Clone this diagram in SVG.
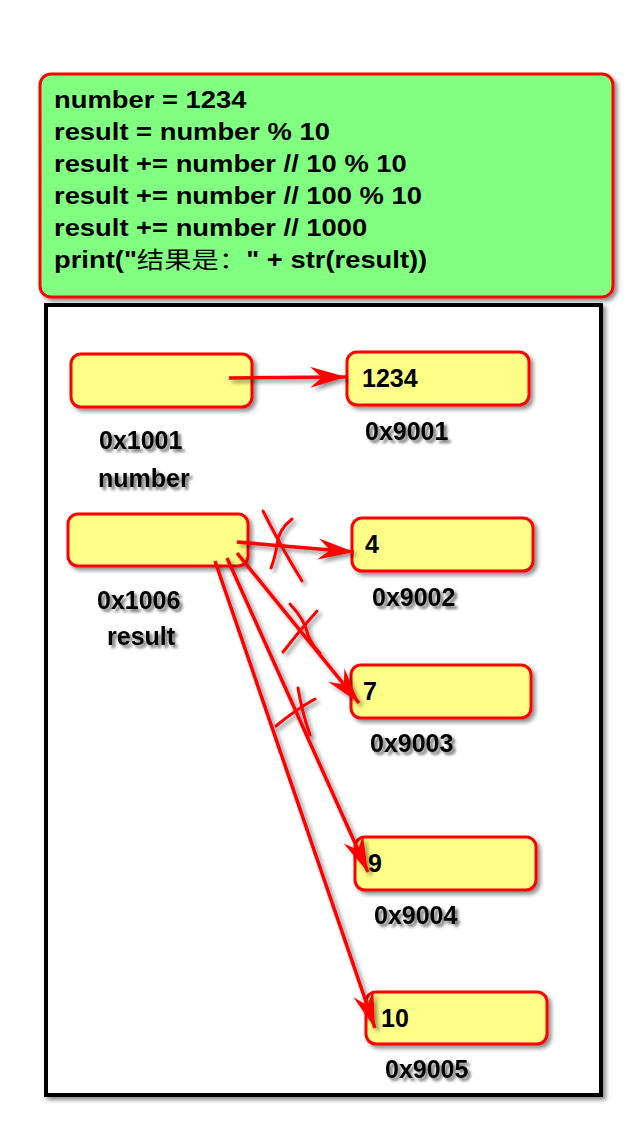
<svg xmlns="http://www.w3.org/2000/svg" width="642" height="1131" viewBox="0 0 642 1131">
<defs>
<filter id="sh" x="-20%" y="-20%" width="140%" height="140%">
<feGaussianBlur in="SourceAlpha" stdDeviation="2"/>
<feOffset dx="3" dy="3" result="b"/>
<feComponentTransfer><feFuncA type="linear" slope="0.45"/></feComponentTransfer>
<feMerge><feMergeNode/><feMergeNode in="SourceGraphic"/></feMerge>
</filter>
<filter id="tsh" x="-20%" y="-30%" width="140%" height="160%">
<feGaussianBlur in="SourceAlpha" stdDeviation="1.8"/>
<feOffset dx="3" dy="3"/>
<feComponentTransfer><feFuncA type="linear" slope="0.55"/></feComponentTransfer>
<feMerge><feMergeNode/><feMergeNode in="SourceGraphic"/></feMerge>
</filter>
<marker id="ah" markerUnits="userSpaceOnUse" viewBox="-38 -12 39 24" refX="0" refY="0" markerWidth="39" markerHeight="24" orient="auto">
<path d="M0,0 L-36,-10.5 L-24,0 L-36,10.5 Z" fill="#FF0000"/>
</marker>
</defs>
<style>
.box{fill:#FFFF88;stroke:#FF0000;stroke-width:3}
.code{font-family:"Liberation Sans",Arial,"Noto Sans CJK SC",sans-serif;font-weight:bold;font-size:23px;fill:#000}
.cjk{font-family:"Noto Sans CJK SC",sans-serif;font-weight:normal}
.val{font-family:"Liberation Sans",Arial,sans-serif;font-weight:bold;font-size:25px;fill:#000}
.lbl{font-family:"Liberation Sans",Arial,sans-serif;font-weight:bold;font-size:25px;fill:#000}
.con{fill:none;stroke:#FF0000;stroke-width:3.5}
.x{fill:none;stroke:#FF0000;stroke-width:3;stroke-linecap:round}
</style>
<rect width="642" height="1131" fill="#FFFFFF"/>

<g id="code">
<rect x="40" y="74" width="573" height="223" rx="11" fill="#80FF80" stroke="#FF0000" stroke-width="3" filter="url(#sh)"/>
<g transform="translate(54 0) scale(1.19 1)" class="code">
<text x="0" y="108">number = 1234</text>
<text x="0" y="140">result = number % 10</text>
<text x="0" y="172">result += number // 10 % 10</text>
<text x="0" y="204">result += number // 100 % 10</text>
<text x="0" y="236">result += number // 1000</text>
<text x="0" y="268">print("<tspan class="cjk">结果是：</tspan>" + str(result))</text>
</g>
</g>

<g id="frame">
<rect x="46" y="305" width="555" height="790" fill="#FFFFFF" stroke="#000000" stroke-width="4" filter="url(#sh)"/>
</g>

<g id="var-number">
<rect class="box" x="71" y="354" width="181" height="53" rx="10" filter="url(#sh)"/>
<g filter="url(#tsh)">
<text class="lbl" x="99" y="449">0x1001</text>
<text class="lbl" x="98" y="487">number</text>
</g>
</g>
<g id="var-result">
<rect class="box" x="68" y="514" width="180" height="52" rx="10" filter="url(#sh)"/>
<g filter="url(#tsh)">
<text class="lbl" x="97" y="609">0x1006</text>
<text class="lbl" x="107" y="645">result</text>
</g>
</g>
<g id="obj-9001">
<rect class="box" x="347" y="352" width="182" height="53" rx="10" filter="url(#sh)"/>
<text class="val" x="362" y="387">1234</text>
<text class="lbl" x="365" y="440" filter="url(#tsh)">0x9001</text>
</g>
<g id="obj-9002">
<rect class="box" x="352" y="518" width="181" height="53" rx="10" filter="url(#sh)"/>
<text class="val" x="365" y="553">4</text>
<text class="lbl" x="372" y="606" filter="url(#tsh)">0x9002</text>
</g>
<g id="obj-9003">
<rect class="box" x="351" y="665" width="180" height="53" rx="10" filter="url(#sh)"/>
<text class="val" x="363" y="700">7</text>
<text class="lbl" x="370" y="752" filter="url(#tsh)">0x9003</text>
</g>
<g id="obj-9004">
<rect class="box" x="355" y="837" width="181" height="53" rx="10" filter="url(#sh)"/>
<text class="val" x="368" y="872">9</text>
<text class="lbl" x="374" y="924" filter="url(#tsh)">0x9004</text>
</g>
<g id="obj-9005">
<rect class="box" x="366" y="992" width="181" height="52" rx="10" filter="url(#sh)"/>
<text class="val" x="381" y="1027">10</text>
<text class="lbl" x="385" y="1078" filter="url(#tsh)">0x9005</text>
</g>

<g id="connectors" filter="url(#sh)">
<line class="con" x1="229" y1="378" x2="346" y2="377" marker-end="url(#ah)"/>
<line class="con" x1="237" y1="542" x2="354" y2="552" marker-end="url(#ah)"/>
<line class="con" x1="237" y1="553" x2="359" y2="703" marker-end="url(#ah)"/>
<line class="con" x1="227" y1="558" x2="368" y2="872" marker-end="url(#ah)"/>
<line class="con" x1="215" y1="561" x2="375" y2="1028" marker-end="url(#ah)"/>
<path class="x" d="M263,511 Q280,545 302,581"/>
<path class="x" d="M292,519 Q278,530 277,545 Q275,558 271,568"/>
<path class="x" d="M290,604 Q305,620 308,635 Q312,645 320,653"/>
<path class="x" d="M317,611 Q300,630 283,652"/>
<path class="x" d="M298,688 Q302,712 310,735"/>
<path class="x" d="M315,699 Q295,710 276,726"/>
</g>
</svg>
